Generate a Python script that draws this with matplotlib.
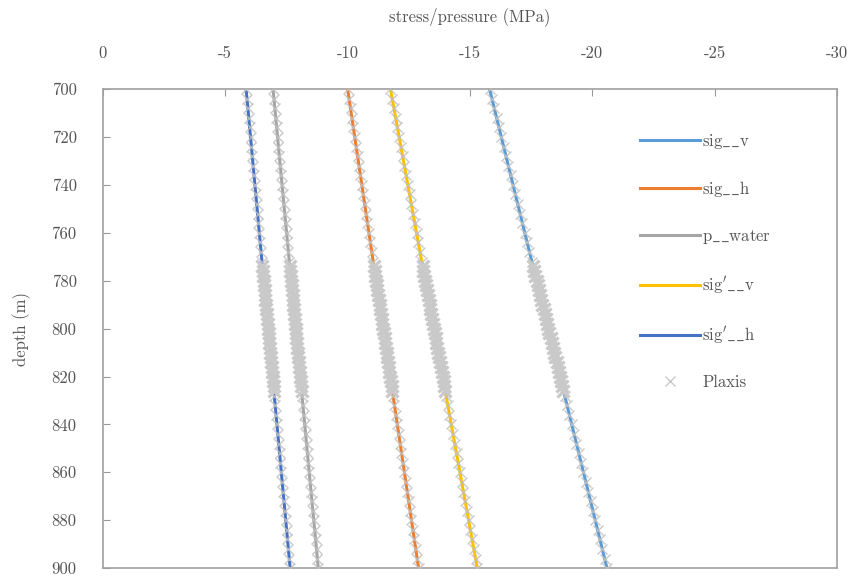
import matplotlib
matplotlib.use("Agg")
import matplotlib.pyplot as plt

plt.rcParams['font.family'] = ['cmr10', 'DejaVu Serif']
plt.rcParams['axes.unicode_minus'] = False
plt.rcParams['mathtext.fontset'] = 'cm'

# ---------------- data ----------------
series_names = [r"$\mathrm{sig\_\_v}$", r"$\mathrm{sig\_\_h}$", r"$\mathrm{p\_\_water}$",
                r"$\mathrm{sig'\_\_v}$", r"$\mathrm{sig'\_\_h}$"]
series_colors = ["#5b9bd5", "#ed7d31", "#a5a5a5", "#ffc000", "#4472c4"]

line_depth = [700, 900]
sig_v_line = [-15.80, -20.60]
sig_h_line = [-10.00, -12.90]
p_water_line = [-6.95, -8.80]
sigp_v_line = [-11.75, -15.30]
sigp_h_line = [-5.85, -7.65]

plaxis_depth = [700, 704, 708, 712, 716, 720, 724, 728, 732, 736, 740, 744, 748, 752, 756, 760, 764, 768, 772,
                774, 776, 778, 780, 782, 784, 786, 788, 790, 792, 794, 796, 798, 800, 802, 804, 806, 808, 810,
                812, 814, 816, 818, 820, 822, 824, 826,
                828, 832, 836, 840, 844, 848, 852, 856, 860, 864, 868, 872, 876, 880, 884, 888, 892, 896, 900]

plaxis_sig_v = [-15.80, -15.90, -15.99, -16.09, -16.18, -16.28, -16.38, -16.47, -16.57, -16.66, -16.76, -16.86,
                -16.95, -17.05, -17.14, -17.24, -17.34, -17.43, -17.53,
                -17.58, -17.62, -17.67, -17.72, -17.77, -17.82, -17.86, -17.91, -17.96, -18.01, -18.06, -18.10,
                -18.15, -18.20, -18.25, -18.30, -18.34, -18.39, -18.44, -18.49, -18.54, -18.58, -18.63, -18.68,
                -18.73, -18.78, -18.82,
                -18.87, -18.97, -19.06, -19.16, -19.26, -19.35, -19.45, -19.54, -19.64, -19.74, -19.83, -19.93,
                -20.02, -20.12, -20.22, -20.31, -20.41, -20.50, -20.60]

plaxis_sig_h = [-10.00, -10.06, -10.12, -10.17, -10.23, -10.29, -10.35, -10.41, -10.46, -10.52, -10.58, -10.64,
                -10.70, -10.75, -10.81, -10.87, -10.93, -10.99, -11.04,
                -11.07, -11.10, -11.13, -11.16, -11.19, -11.22, -11.25, -11.28, -11.31, -11.33, -11.36, -11.39,
                -11.42, -11.45, -11.48, -11.51, -11.54, -11.57, -11.60, -11.62, -11.65, -11.68, -11.71, -11.74,
                -11.77, -11.80, -11.83,
                -11.86, -11.91, -11.97, -12.03, -12.09, -12.15, -12.20, -12.26, -12.32, -12.38, -12.44, -12.49,
                -12.55, -12.61, -12.67, -12.73, -12.78, -12.84, -12.90]

plaxis_p_water = [-6.95, -6.99, -7.02, -7.06, -7.10, -7.14, -7.17, -7.21, -7.25, -7.28, -7.32, -7.36,
                  -7.39, -7.43, -7.47, -7.51, -7.54, -7.58, -7.62,
                  -7.63, -7.65, -7.67, -7.69, -7.71, -7.73, -7.75, -7.76, -7.78, -7.80, -7.82, -7.84,
                  -7.86, -7.88, -7.89, -7.91, -7.93, -7.95, -7.97, -7.99, -8.00, -8.02, -8.04, -8.06,
                  -8.08, -8.10, -8.12,
                  -8.13, -8.17, -8.21, -8.25, -8.28, -8.32, -8.36, -8.39, -8.43, -8.47, -8.50, -8.54,
                  -8.58, -8.62, -8.65, -8.69, -8.73, -8.76, -8.80]

plaxis_sigp_v = [-11.75, -11.82, -11.89, -11.96, -12.03, -12.11, -12.18, -12.25, -12.32, -12.39, -12.46, -12.53,
                 -12.60, -12.67, -12.74, -12.82, -12.89, -12.96, -13.03,
                 -13.06, -13.10, -13.13, -13.17, -13.21, -13.24, -13.28, -13.31, -13.35, -13.38, -13.42, -13.45,
                 -13.49, -13.53, -13.56, -13.60, -13.63, -13.67, -13.70, -13.74, -13.77, -13.81, -13.84, -13.88,
                 -13.92, -13.95, -13.99,
                 -14.02, -14.09, -14.16, -14.24, -14.31, -14.38, -14.45, -14.52, -14.59, -14.66, -14.73, -14.80,
                 -14.87, -14.95, -15.02, -15.09, -15.16, -15.23, -15.30]

plaxis_sigp_h = [-5.85, -5.89, -5.92, -5.96, -5.99, -6.03, -6.07, -6.10, -6.14, -6.17, -6.21, -6.25,
                 -6.28, -6.32, -6.35, -6.39, -6.43, -6.46, -6.50,
                 -6.52, -6.53, -6.55, -6.57, -6.59, -6.61, -6.62, -6.64, -6.66, -6.68, -6.70, -6.71,
                 -6.73, -6.75, -6.77, -6.79, -6.80, -6.82, -6.84, -6.86, -6.88, -6.89, -6.91, -6.93,
                 -6.95, -6.97, -6.98,
                 -7.00, -7.04, -7.07, -7.11, -7.15, -7.18, -7.22, -7.25, -7.29, -7.33, -7.36, -7.40,
                 -7.43, -7.47, -7.51, -7.54, -7.58, -7.61, -7.65]

x_ticks = [0, -5, -10, -15, -20, -25, -30]
x_tick_labels = ["0", "-5", "-10", "-15", "-20", "-25", "-30"]
y_ticks = [700, 720, 740, 760, 780, 800, 820, 840, 860, 880, 900]
y_tick_labels = [str(v) for v in y_ticks]

# ---------------- plot ----------------
text_color = "#555555"
fig = plt.figure(figsize=(8.51, 5.78), dpi=100)
ax = fig.add_axes([0.121, 0.017, 0.8625, 0.829])

lines = [sig_v_line, sig_h_line, p_water_line, sigp_v_line, sigp_h_line]
for name, col, vals in zip(series_names, series_colors, lines):
    ax.plot(vals, line_depth, color=col, lw=2.2, label=name, zorder=2)

plaxis_sets = [plaxis_sig_v, plaxis_sig_h, plaxis_p_water, plaxis_sigp_v, plaxis_sigp_h]
dense = [774 <= d <= 826 for d in plaxis_depth]
for i, vals in enumerate(plaxis_sets):
    xs_c = [v for v, m in zip(vals, dense) if not m]
    ys_c = [d for d, m in zip(plaxis_depth, dense) if not m]
    xs_d = [v for v, m in zip(vals, dense) if m]
    ys_d = [d for d, m in zip(plaxis_depth, dense) if m]
    ax.plot(xs_c, ys_c, linestyle="none", marker="x", markersize=7.5,
            markeredgewidth=1.0, color="#c0c0c0", alpha=0.85,
            label="Plaxis" if i == 0 else None, zorder=3)
    ax.plot(xs_d, ys_d, linestyle="none", marker="x", markersize=8,
            markeredgewidth=2.3, color="#c9c9c9", zorder=3)

ax.set_xlim(0, -30)
ax.set_ylim(900, 700)
ax.xaxis.tick_top()
ax.xaxis.set_label_position("top")
ax.set_xticks(x_ticks)
ax.set_xticklabels(x_tick_labels)
ax.set_yticks(y_ticks)
ax.set_yticklabels(y_tick_labels)
ax.tick_params(axis="x", direction="in", length=5, color="#999999",
               labelsize=12, labelcolor=text_color, pad=20)
ax.tick_params(axis="y", direction="in", length=5, color="#999999",
               labelsize=12, labelcolor=text_color, pad=19)
ax.set_xlabel("stress/pressure (MPa)", fontsize=12, color=text_color, labelpad=18)
ax.set_ylabel("depth (m)", fontsize=12, color=text_color, labelpad=15)
for s in ax.spines.values():
    s.set_color("#a0a0a0")
    s.set_linewidth(1.2)

leg = ax.legend(loc="upper left", bbox_to_anchor=(0.722, 0.925), frameon=False,
                fontsize=12, labelspacing=1.72, handlelength=3.6, handletextpad=0.15,
                labelcolor=text_color, borderaxespad=0)

fig.savefig("out.png", dpi=100)
